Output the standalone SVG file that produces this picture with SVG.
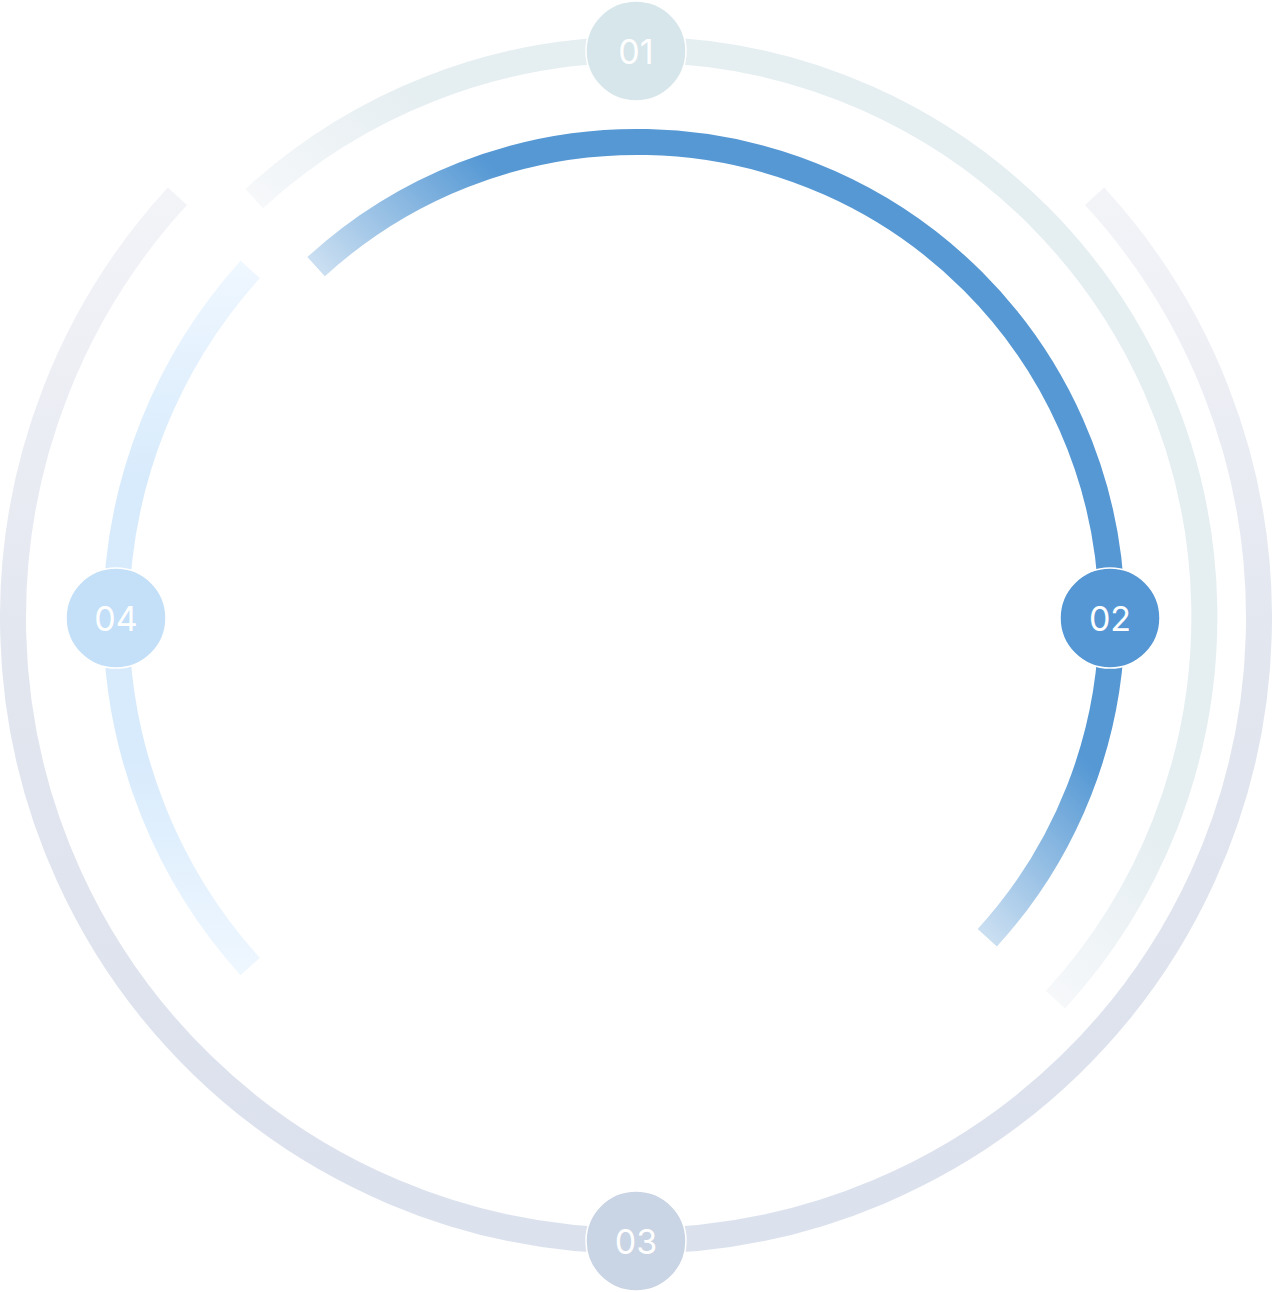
<svg xmlns="http://www.w3.org/2000/svg" width="1272" height="1292" viewBox="0 0 1272 1292">
  <defs>
    <linearGradient id="gOuter" gradientUnits="userSpaceOnUse" x1="0" y1="190" x2="0" y2="1241">
      <stop offset="0" stop-color="#f3f4f8"/>
      <stop offset="0.45" stop-color="#e2e6ef"/>
      <stop offset="1" stop-color="#dbe1ed"/>
    </linearGradient>
    <linearGradient id="g01" gradientUnits="userSpaceOnUse" x1="654" y1="600" x2="790" y2="464">
      <stop offset="0" stop-color="#f6f8fa"/>
      <stop offset="1" stop-color="#e5eef1"/>
    </linearGradient>
    <linearGradient id="g02" gradientUnits="userSpaceOnUse" x1="654" y1="600" x2="790" y2="464">
      <stop offset="0" stop-color="#c9def1"/>
      <stop offset="1" stop-color="#5598d4"/>
    </linearGradient>
    <linearGradient id="g04" gradientUnits="userSpaceOnUse" x1="0" y1="265" x2="0" y2="972">
      <stop offset="0" stop-color="#eff7ff"/>
      <stop offset="0.3" stop-color="#d8ebfc"/>
      <stop offset="0.7" stop-color="#d8ebfc"/>
      <stop offset="1" stop-color="#eff7ff"/>
    </linearGradient>
  </defs>
  <style>
    .arc { fill: none; stroke-width: 26; stroke-linecap: butt; }
    .node circle { stroke: #ffffff; stroke-width: 1.5; }
    .node text { fill: #ffffff; font-family: "Inter", "Liberation Sans", sans-serif; font-size: 34px; text-anchor: middle; dominant-baseline: central; }
  </style>
  <rect width="1272" height="1292" fill="#ffffff"/>
  <g id="connectors">
    <path class="arc" stroke="url(#gOuter)" d="M 177.4 196.3 A 623 623 0 1 0 1094.6 196.3"/>
    <path class="arc" stroke="url(#g01)" d="M 254.2 198.6 A 567 567 0 0 1 1055.4 999.6"/>
    <path class="arc" stroke="url(#g02)" d="M 316.1 266.7 A 475 475 0 0 1 987.3 937.7"/>
    <path class="arc" stroke="url(#g04)" d="M 250.2 269.4 A 520 520 0 0 0 250.2 966.6"/>
  </g>
  <g id="node-01" class="node">
    <circle cx="636" cy="51" r="50" fill="#d7e6eb"/>
    <text x="636" y="51">01</text>
  </g>
  <g id="node-02" class="node">
    <circle cx="1110" cy="618" r="50" fill="#5497d4"/>
    <text x="1110" y="618">02</text>
  </g>
  <g id="node-03" class="node">
    <circle cx="636" cy="1241" r="50" fill="#c9d4e4"/>
    <text x="636" y="1241">03</text>
  </g>
  <g id="node-04" class="node">
    <circle cx="116" cy="618" r="50" fill="#c4e0f8"/>
    <text x="116" y="618">04</text>
  </g>
</svg>
